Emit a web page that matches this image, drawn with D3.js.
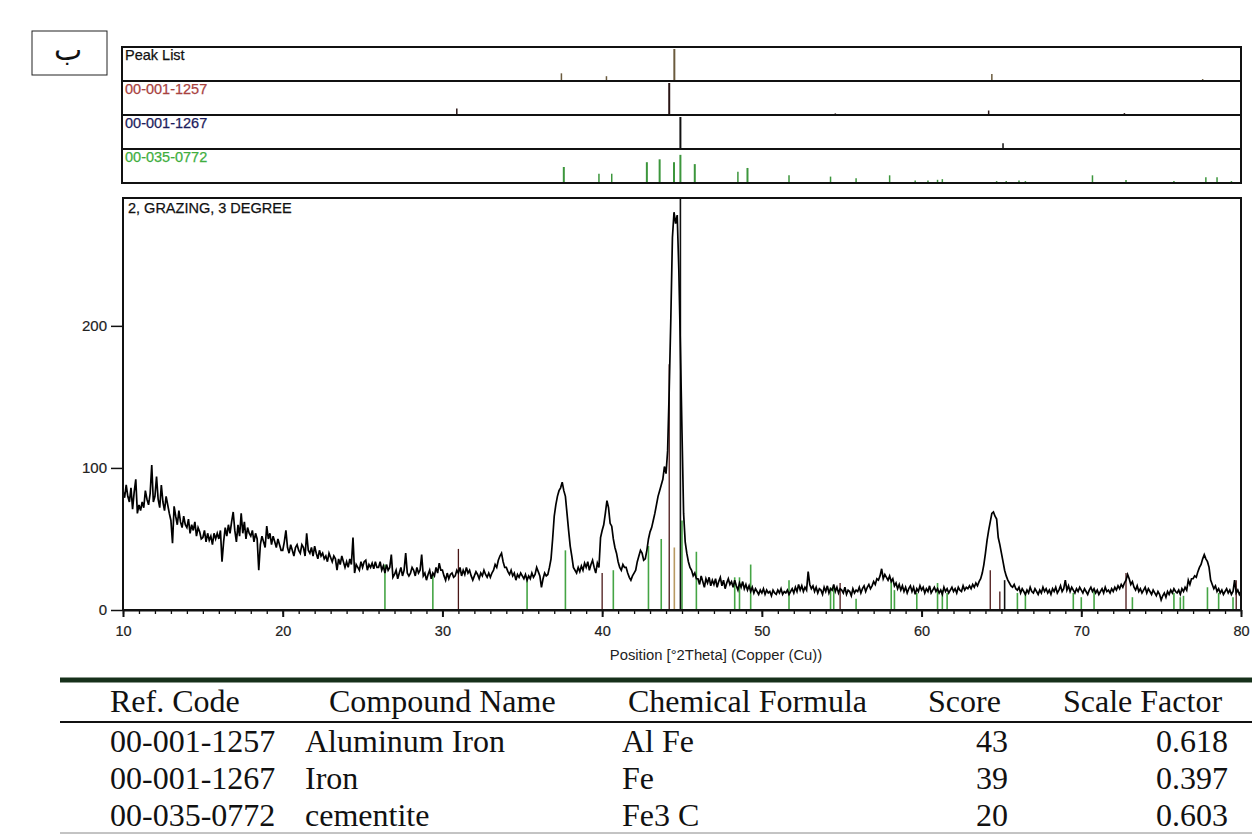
<!DOCTYPE html>
<html><head><meta charset="utf-8">
<script src="https://cdn.jsdelivr.net/npm/d3@7"></script>
<style>body{margin:0;background:#fff}</style>
</head><body><svg id="c" width="1255" height="836"></svg>
<script>
// ---------- DATA ----------
const angleStart = 10, angleStep = 0.1;   // measured 2Theta grid
const counts = [
84,79,88,80,76,86,71,83,92,68,
74,70,76,72,84,78,74,82,102,76,
80,94,78,72,88,76,70,80,74,68,
63,47,73,66,60,70,62,58,66,60,
58,64,54,60,56,62,52,58,55,50,
51,56,48,54,49,52,46,54,50,54,
50,56,34,48,58,52,60,54,62,69,
56,48,60,52,68,54,62,50,58,54,
52,56,48,54,50,28,46,52,48,44,
59,50,54,46,52,48,44,50,46,42,
42,48,56,44,40,46,42,38,44,46,
42,40,46,44,38,54,42,40,44,38,
45,40,36,42,38,40,36,38,34,40,
37,34,38,36,28,36,32,38,34,30,
34,30,36,32,51,26,32,30,28,34,
30,34,35,28,32,30,33,29,34,30,
30,34,28,31,26,32,28,30,39,23,
25,28,22,26,30,24,28,40,26,24,
26,30,28,24,30,26,28,39,24,26,
21,25,28,22,26,24,30,26,33,28,
28,24,21,26,22,25,26,23,24,28,
26,30,24,28,25,30,26,28,24,21,
24,27,25,22,26,24,28,25,23,26,
23,26,28,32,30,35,38,40,34,30,
30,27,25,28,24,26,21,25,23,26,
24,22,25,21,24,22,26,23,25,30,
27,24,16,22,26,24,25,30,36,50,
66,74,80,84,86,90,84,80,68,56,
45,38,30,28,26,30,27,31,28,33,
30,34,28,32,35,30,26,33,30,51,
56,60,68,77,72,61,59,50,44,40,
34,30,28,32,30,30,26,23,21,24,
26,28,34,38,42,40,35,36,42,50,
55,58,63,68,74,80,84,88,92,101,
96,112,155,205,262,280,272,278,240,185,
125,68,48,40,34,30,28,24,26,22,
22,18,24,20,16,22,19,23,17,21,
18,22,16,20,23,17,21,15,19,22,
18,20,16,21,17,14,19,16,20,15,
18,14,17,13,16,12,15,13,11,14,
12,15,11,14,12,13,10,14,12,11,
14,12,15,11,13,12,14,11,13,15,
12,16,13,18,14,17,13,16,14,27,
18,15,17,13,16,12,15,14,11,16,
13,17,12,15,14,18,13,16,12,15,
14,12,16,11,14,13,10,15,12,14,
13,16,12,15,17,13,16,18,15,17,
20,18,22,21,24,29,22,25,23,21,
24,20,22,17,19,15,18,14,17,13,
16,12,15,17,13,16,11,15,13,17,
14,16,12,15,13,17,12,14,16,13,
15,12,14,11,16,13,15,12,14,16,
13,15,12,16,14,13,17,14,16,15,
17,15,18,16,19,17,20,22,26,32,
40,49,56,62,68,69,66,64,51,46,
40,34,28,24,21,19,17,16,18,15,
14,16,12,15,13,11,14,12,16,13,
12,15,13,11,14,12,16,13,15,12,
14,11,15,13,16,12,14,17,13,15,
21,14,17,13,16,14,12,15,13,16,
14,12,15,13,11,14,16,13,15,12,
14,11,13,15,12,16,13,14,12,15,
13,16,14,17,15,18,16,19,21,25,
22,18,20,16,14,17,13,15,12,14,
16,12,15,13,11,14,12,10,13,11,
7,10,12,9,13,11,14,12,15,13,
12,14,11,15,13,16,14,21,18,22,
22,24,23,27,30,32,36,39,36,34,
30,21,18,15,17,13,15,12,14,11,
13,15,12,14,11,13,21,12,14,11,
13];

// reference-pattern panels (position, relative intensity %)
const panelLabels = ["Peak List", "00-001-1257", "00-001-1267", "00-035-0772"];
const peakListPos = [37.45, 40.27, 44.52, 64.4, 77.6];
const peakListRel = [24, 15, 100, 22, 6];
const alFePos = [30.9, 44.2, 54.6, 64.2, 72.7];
const alFeRel = [20, 100, 5, 14, 6];
const ironPos = [44.9, 65.1];
const ironRel = [100, 18];
const cemPos = [26.4, 29.4, 35.2, 37.6, 39.8, 40.6, 42.8, 43.6, 44.5, 44.9, 45.8, 48.5, 49.1, 51.7, 54.3, 55.9, 58.0, 59.6, 60.4, 61.0, 61.3, 64.7, 65.3, 66.1, 66.5, 70.7, 72.8, 75.8, 77.8, 78.5, 79.4];
const cemRel = [3, 3, 3, 50, 29, 29, 65, 74, 65, 88, 59, 35, 47, 24, 20, 15, 24, 8, 8, 10, 12, 6, 6, 8, 6, 24, 9, 6, 18, 18, 6];

// reference sticks in the main plot (position, counts)
const cemMainPos = [26.4, 29.4, 35.3, 37.7, 40.7, 42.9, 43.7, 45.0, 45.9, 48.3, 48.6, 49.3, 51.7, 54.3, 54.5, 55.9, 58.1, 58.3, 59.7, 61.0, 61.3, 61.6, 66.0, 66.5, 69.5, 70.0, 70.8, 73.2, 75.8, 76.2, 76.4, 77.9, 78.6, 79.5];
const cemMainH = [32, 25, 21, 42, 28, 45, 50, 63, 41, 23, 23, 32, 21, 16, 16, 8, 20, 14, 12, 19, 14, 12, 12, 12, 12, 9, 14, 9, 12, 9, 10, 16, 12, 9];
const alFeMainPos = [31.0, 40.0, 44.2, 54.9, 64.3, 64.9, 72.8, 79.7];
const alFeMainH = [43, 26, 173, 19, 28, 13, 26, 21];
const ironMainPos = [44.9, 65.2];
const ironMainH = [290, 21];
const peakMainPos = [44.52];
const peakMainH = [44];

const xTicks = [10, 20, 30, 40, 50, 60, 70, 80];
const yTicks = [0, 100, 200];

const sampleLabel = "2, GRAZING, 3 DEGREE";
const xTitle = "Position [°2Theta] (Copper (Cu))";
const cornerLabel = "ب";

const tableHeaders = ["Ref. Code", "Compound Name", "Chemical Formula", "Score", "Scale Factor"];
const refCodes = ["00-001-1257", "00-001-1267", "00-035-0772"];
const compoundNames = ["Aluminum Iron", "Iron", "cementite"];
const formulas = ["Al Fe", "Fe", "Fe3 C"];
const scores = [43, 39, 20];
const scaleFactors = ["0.618", "0.397", "0.603"];

// ---------- DRAW ----------
const svg = d3.select("#c");
const sans = "'Liberation Sans', Arial, sans-serif";
const serif = "'Liberation Serif', 'Times New Roman', serif";

const x = d3.scaleLinear().domain([10, 80]).range([123, 1241]);
const y = d3.scaleLinear().domain([0, 290]).range([610, 198]);

// corner box
svg.append("rect").attr("x", 32).attr("y", 31).attr("width", 75).attr("height", 44)
  .attr("fill", "none").attr("stroke", "#222").attr("stroke-width", 1);
svg.append("text").attr("x", 68).attr("y", 60).attr("text-anchor", "middle")
  .attr("font-family", "'DejaVu Serif', 'DejaVu Sans', 'Noto Sans', sans-serif").attr("font-size", 30)
  .attr("fill", "#111").text(cornerLabel);

// reference panels
const panelTop = 47, panelH = 34;
const panels = [
  {pos: peakListPos, rel: peakListRel, label: "#111", tick: "#6b5b3e"},
  {pos: alFePos, rel: alFeRel, label: "#a8423f", tick: "#2a1515"},
  {pos: ironPos, rel: ironRel, label: "#1d1d5e", tick: "#111"},
  {pos: cemPos, rel: cemRel, label: "#3fae3f", tick: "#3c963c"}
];
panels.forEach((p, i) => {
  const top = panelTop + i * panelH, bottom = top + panelH;
  const py = d3.scaleLinear().domain([0, 100]).range([bottom, top + 2]);
  const g = svg.append("g");
  g.selectAll("line").data(d3.zip(p.pos, p.rel)).join("line")
    .attr("x1", d => x(d[0])).attr("x2", d => x(d[0]))
    .attr("y1", bottom).attr("y2", d => py(d[1]))
    .attr("stroke", p.tick).attr("stroke-width", d => d[1] > 40 ? 2 : 1.5);
  g.append("text").attr("x", 125).attr("y", top + 13)
    .attr("font-family", sans).attr("font-size", 14.5).attr("fill", p.label)
    .attr("stroke", p.label).attr("stroke-width", 0.25)
    .text(panelLabels[i]);
});
// panel frame & separators
svg.append("rect").attr("x", 122).attr("y", panelTop).attr("width", 1241 - 122).attr("height", panelH * 4)
  .attr("fill", "none").attr("stroke", "#111").attr("stroke-width", 2);
[1, 2, 3].forEach(i => {
  svg.append("line").attr("x1", 122).attr("x2", 1241)
    .attr("y1", panelTop + i * panelH).attr("y2", panelTop + i * panelH)
    .attr("stroke", "#111").attr("stroke-width", 2);
});

// main plot sticks
const stickGroups = [
  {pos: cemMainPos, h: cemMainH, color: "#45a545", w: 1.6},
  {pos: alFeMainPos, h: alFeMainH, color: "#4a1616", w: 1.3},
  {pos: peakMainPos, h: peakMainH, color: "#b89a62", w: 1.6},
  {pos: ironMainPos, h: ironMainH, color: "#111", w: 1.6}
];
stickGroups.forEach(s => {
  svg.append("g").selectAll("line").data(d3.zip(s.pos, s.h)).join("line")
    .attr("x1", d => x(d[0])).attr("x2", d => x(d[0]))
    .attr("y1", y(0)).attr("y2", d => y(d[1]))
    .attr("stroke", s.color).attr("stroke-width", s.w);
});

// trace
const pts = counts.map((c, i) => [angleStart + i * angleStep, c]);
svg.append("path").datum(pts)
  .attr("fill", "none").attr("stroke", "#000").attr("stroke-width", 1.7)
  .attr("stroke-linejoin", "miter")
  .attr("d", d3.line().x(d => x(d[0])).y(d => y(d[1])));

// main frame
svg.append("rect").attr("x", 123).attr("y", 198).attr("width", 1241 - 123).attr("height", 610 - 198)
  .attr("fill", "none").attr("stroke", "#111").attr("stroke-width", 2);

svg.append("text").attr("x", 128).attr("y", 213)
  .attr("font-family", sans).attr("font-size", 14.5).attr("fill", "#111")
  .attr("stroke", "#111").attr("stroke-width", 0.25)
  .text(sampleLabel);

// axes
const xMinor = svg.append("g").attr("transform", "translate(0,610)")
  .call(d3.axisBottom(x).ticks(70).tickSize(4).tickFormat("").tickSizeOuter(0));
xMinor.select(".domain").remove();
xMinor.selectAll("line").attr("stroke", "#111").attr("stroke-width", 1.3);

const xAx = svg.append("g").attr("transform", "translate(0,610)")
  .call(d3.axisBottom(x).tickValues(xTicks).tickSize(7).tickPadding(9).tickSizeOuter(0));
xAx.select(".domain").attr("stroke", "#111").attr("stroke-width", 2);
xAx.selectAll("line").attr("stroke", "#111").attr("stroke-width", 2);
xAx.selectAll("text").attr("font-family", sans).attr("font-size", 14.5).attr("fill", "#222")
  .attr("stroke", "#222").attr("stroke-width", 0.2);

const yAx = svg.append("g").attr("transform", "translate(123,0)")
  .call(d3.axisLeft(y).tickValues(yTicks).tickSize(12).tickPadding(4).tickSizeOuter(0));
yAx.select(".domain").remove();
yAx.selectAll("line").attr("stroke", "#111").attr("stroke-width", 1.5);
yAx.selectAll("text").attr("font-family", sans).attr("font-size", 15).attr("fill", "#222")
  .attr("stroke", "#222").attr("stroke-width", 0.2);

svg.append("text").attr("x", 716).attr("y", 660).attr("text-anchor", "middle")
  .attr("font-family", sans).attr("font-size", 14.8).attr("fill", "#222")
  .text(xTitle);

// table
const tbl = svg.append("g").attr("font-family", serif).attr("font-size", 32).attr("fill", "#111");
tbl.append("line").attr("x1", 60).attr("x2", 1252).attr("y1", 680).attr("y2", 680)
  .attr("stroke", "#16301a").attr("stroke-width", 5);
tbl.append("line").attr("x1", 60).attr("x2", 1252).attr("y1", 722).attr("y2", 722)
  .attr("stroke", "#111").attr("stroke-width", 2);
tbl.append("line").attr("x1", 60).attr("x2", 1252).attr("y1", 833).attr("y2", 833)
  .attr("stroke", "#888").attr("stroke-width", 1);

const headX = [110, 329, 628, 928, 1063];
tableHeaders.forEach((h, i) => {
  tbl.append("text").attr("x", headX[i]).attr("y", 712).text(h);
});
const rowY = [752, 789, 826];
refCodes.forEach((r, i) => {
  tbl.append("text").attr("x", 110).attr("y", rowY[i]).text(r);
  tbl.append("text").attr("x", 305).attr("y", rowY[i]).text(compoundNames[i]);
  tbl.append("text").attr("x", 622).attr("y", rowY[i]).text(formulas[i]);
  tbl.append("text").attr("x", 1008).attr("y", rowY[i]).attr("text-anchor", "end").text(scores[i]);
  tbl.append("text").attr("x", 1228).attr("y", rowY[i]).attr("text-anchor", "end").text(scaleFactors[i]);
});
</script>
</body></html>
